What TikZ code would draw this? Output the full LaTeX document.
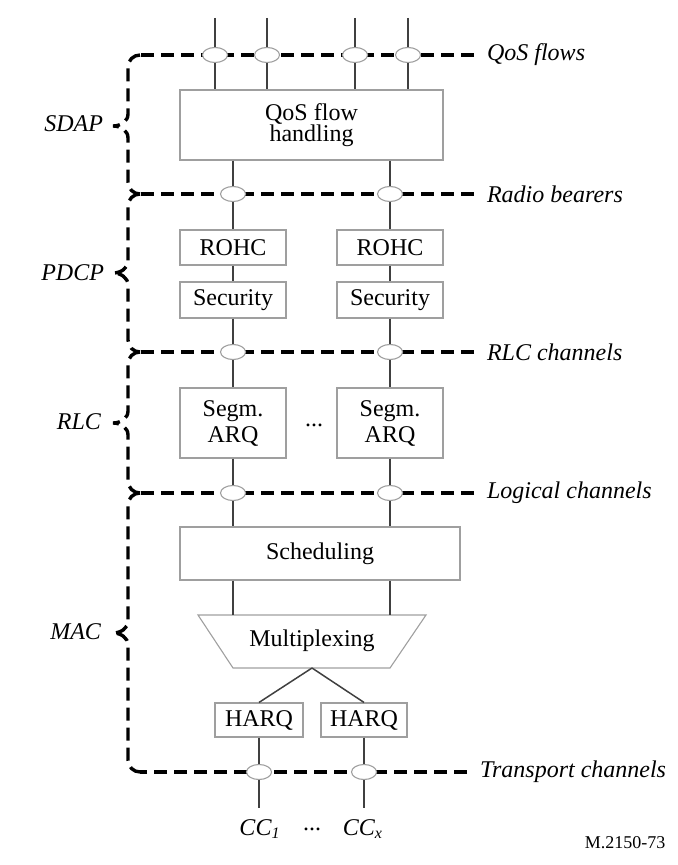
\documentclass[tikz,border=0pt]{standalone}
\usepackage{fontspec}
\setmainfont{Liberation Serif}
\usetikzlibrary{shapes.geometric, backgrounds, calc}

\begin{document}
\begin{tikzpicture}[
  x=0.5pt, y=-0.5pt,
  every node/.style={font=\fontsize{12}{13}\selectfont},
  box/.style={rectangle, draw=gray!75, fill=white, line width=0.55pt, inner sep=0pt, align=center},
  port/.style={ellipse, draw=gray!75, fill=white, line width=0.55pt, inner sep=0pt,
               minimum width=12.5pt, minimum height=7.5pt},
  wire/.style={line width=0.75pt, black!75},
  chan/.style={line width=1.7pt, dash pattern=on 6.5pt off 3.5pt},
  layer/.style={font=\fontsize{12}{13}\selectfont\itshape, anchor=east},
  chlabel/.style={font=\fontsize{12}{13}\selectfont\itshape, anchor=west},
]
\useasboundingbox (0,0) rectangle (677,865);

% SDAP — QoS flows
\foreach \n/\x in {1/215, 2/267, 3/355, 4/408} {
  \coordinate (top\n) at (\x,18);
  \node[port] (qf\n) at (\x,55) {};
}
\node[box, minimum width=131.5pt, minimum height=35pt, font=\fontsize{12}{10.5}\selectfont] (qos) at (311.5,125) {QoS flow\\handling};

% PDCP and RLC — two bearers
\foreach \n/\x in {1/233, 2/390} {
  \node[port] (rb\n) at (\x,194) {};
  \node[box, minimum width=53pt, minimum height=17.5pt] (rohc\n) at (\x,247.5) {ROHC};
  \node[box, minimum width=53pt, minimum height=18pt] (sec\n) at (\x,300) {Security};
  \node[port] (rl\n) at (\x,352) {};
  \node[box, minimum width=53pt, minimum height=35pt] (arq\n) at (\x,423) {Segm.\\ARQ};
  \node[port] (lc\n) at (\x,493) {};
}
\node (dotsA) at (314,425) {...};

% MAC
\node[box, minimum width=140pt, minimum height=26.5pt] (sched) at (320,553.5) {Scheduling};
\coordinate (muxtl) at (198,615);
\coordinate (muxtr) at (426,615);
\coordinate (muxbr) at (390,668);
\coordinate (muxbl) at (233,668);
\coordinate (muxtip) at (312,668);
\draw[draw=gray!75, line width=0.55pt] (muxtl) -- (muxtr) -- (muxbr) -- (muxbl) -- cycle;
\node (mux) at (312,641) {Multiplexing};
\node[box, minimum width=44pt, minimum height=17pt] (harq1) at (259,720) {HARQ};
\node[box, minimum width=43pt, minimum height=17pt] (harq2) at (364,720) {HARQ};
\foreach \n/\x in {1/259, 2/364} {
  \node[port] (tc\n) at (\x,772) {};
  \coordinate (end\n) at (\x,808);
}
\node (cc1) at (260,829) {\textit{CC\textsubscript{1}}};
\node (dotsB) at (312,829) {...};
\node (cc2) at (363,829) {\textit{CC\textsubscript{x}}};

% Layer labels
\node[layer] (sdap) at (110,124) {SDAP};
\node[layer] (pdcp) at (111,273) {PDCP};
\node[layer] (rlc)  at (108,422) {RLC};
\node[layer] (mac)  at (108,632) {MAC};

% Channel labels
\node[chlabel] (lqos) at (480,55)  {QoS flows};
\node[chlabel] (lrb)  at (480,194) {Radio bearers};
\node[chlabel] (lrlc) at (480,352) {RLC channels};
\node[chlabel] (llog) at (480,493) {Logical channels};
\node[chlabel] (ltr)  at (473,772) {Transport channels};

\node[font=\fontsize{9}{9}\selectfont] (fig) at (625,843) {M.2150-73};

% Wires
\foreach \n in {1,...,4} {
  \draw[wire] (top\n) -- (qf\n.north);
  \draw[wire] (qf\n.south) -- (qf\n.south |- qos.north);
}
\foreach \n in {1,2} {
  \draw[wire] (qos.south -| rb\n) -- (rb\n.north);
  \draw[wire] (rb\n.south) -- (rohc\n.north);
  \draw[wire] (rohc\n.south) -- (sec\n.north);
  \draw[wire] (sec\n.south) -- (rl\n.north);
  \draw[wire] (rl\n.south) -- (arq\n.north);
  \draw[wire] (arq\n.south) -- (lc\n.north);
  \draw[wire] (lc\n.south) -- (sched.north -| lc\n);
  \draw[wire] (sched.south -| lc\n) -- (lc\n |- muxtl);
  \draw[wire] (muxtip) -- (harq\n.north);
  \draw[wire] (harq\n.south) -- (tc\n.north);
  \draw[wire] (tc\n.south) -- (end\n);
}

% Channels and braces (dashed)
\begin{scope}[on background layer]
  \draw[chan] ([xshift=-3pt]lqos.west) -- (140,55);
  \draw[chan] ([xshift=-3pt]lrb.west)  -- (140,194);
  \draw[chan] ([xshift=-3pt]lrlc.west) -- (140,352);
  \draw[chan] ([xshift=-3pt]llog.west) -- (140,493);
  \draw[chan] ([xshift=-3pt]ltr.west)  -- (140,772);
  \draw[chan] (140,55) to[out=180,in=90] (128,67) -- (128,114) to[out=-90,in=0] (113,126)
    to[out=0,in=90] (128,138) -- (128,182) to[out=-90,in=180] (140,194);
  \draw[chan] (140,194) to[out=180,in=90] (128,206) -- (128,261) to[out=-90,in=0] (113,273)
    to[out=0,in=90] (128,285) -- (128,340) to[out=-90,in=180] (140,352);
  \draw[chan] (140,352) to[out=180,in=90] (128,364) -- (128,411) to[out=-90,in=0] (113,423)
    to[out=0,in=90] (128,435) -- (128,481) to[out=-90,in=180] (140,493);
  \draw[chan] (140,493) to[out=180,in=90] (128,505) -- (128,621) to[out=-90,in=0] (113,633)
    to[out=0,in=90] (128,645) -- (128,760) to[out=-90,in=180] (140,772);
\end{scope}

\end{tikzpicture}
\end{document}
